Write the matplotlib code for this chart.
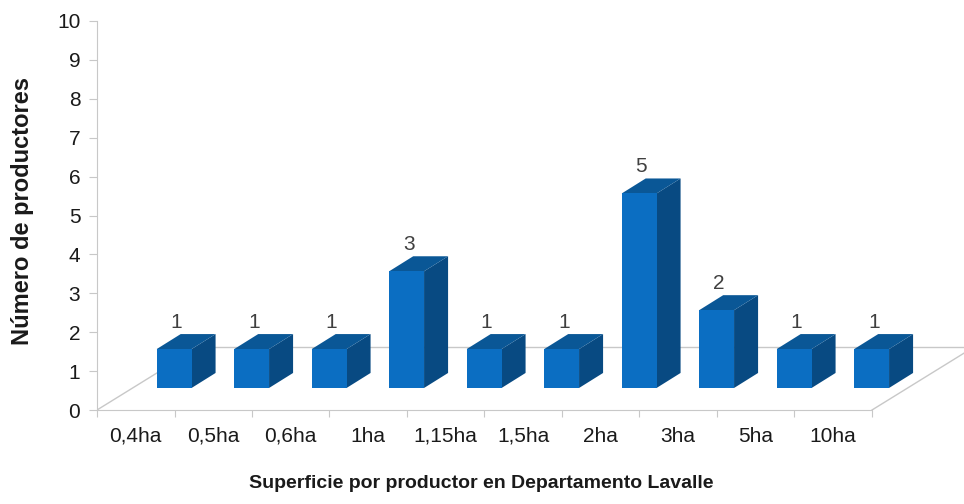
import matplotlib.pyplot as plt
from matplotlib.patches import Polygon

plt.rcParams['font.family'] = ['Liberation Sans', 'DejaVu Sans']

categories = ['0,4ha', '0,5ha', '0,6ha', '1ha', '1,15ha', '1,5ha', '2ha', '3ha', '5ha', '10ha']
productores = [1, 1, 1, 3, 1, 1, 5, 2, 1, 1]

FRONT = '#0B6EC2'
TOP = '#0A5796'
SIDE = '#084A82'
GRID = '#C8C8C8'
TEXT = '#1a1a1a'

# oblique projection offsets (data units)
floor_dx, floor_dy = 1.316, 1.62
bar_dx, bar_dy = 0.31, 0.386
bar_x0, bar_w = 0.77, 0.45
bar_base = 0.566

fig = plt.figure(figsize=(9.64, 5.04), dpi=100)
ax = fig.add_axes([97 / 964, 94 / 504, 867 / 964, 395 / 504])
ax.set_xlim(0, 867 / 77.5)
ax.set_ylim(0, 395 / 38.9)

# floor outline
n = len(categories)
ax.plot([0, floor_dx], [0, floor_dy], color=GRID, lw=1, zorder=1)
ax.plot([floor_dx, n + floor_dx], [floor_dy, floor_dy], color=GRID, lw=1, zorder=1)
ax.plot([n, n + floor_dx], [0, floor_dy], color=GRID, lw=1, zorder=1)

for i, v in enumerate(productores):
    x0 = i + bar_x0
    x1 = x0 + bar_w
    y0 = bar_base
    y1 = bar_base + v
    side = [(x1, y0), (x1 + bar_dx, y0 + bar_dy), (x1 + bar_dx, y1 + bar_dy), (x1, y1)]
    top = [(x0, y1), (x1, y1), (x1 + bar_dx, y1 + bar_dy), (x0 + bar_dx, y1 + bar_dy)]
    front = [(x0, y0), (x1, y0), (x1, y1), (x0, y1)]
    ax.add_patch(Polygon(side, closed=True, fc=SIDE, ec='none', zorder=3))
    ax.add_patch(Polygon(top, closed=True, fc=TOP, ec='none', zorder=3))
    ax.add_patch(Polygon(front, closed=True, fc=FRONT, ec='none', zorder=3))
    ax.text(x0 + bar_w / 2 + 0.03, y1 + bar_dy + 0.06, str(v), ha='center', va='bottom',
            fontsize=15, color='#404040', zorder=4)

for s in ['top', 'right']:
    ax.spines[s].set_visible(False)
ax.spines['left'].set_bounds(0, 10)
ax.spines['bottom'].set_bounds(0, n)
ax.spines['left'].set_color(GRID)
ax.spines['bottom'].set_color(GRID)

ax.set_yticks(range(0, 11))
ax.set_xticks(range(0, n + 1))
ax.set_xticklabels([])
ax.set_xticks([i + 0.5 for i in range(n)], minor=True)
ax.set_xticklabels(categories, minor=True)
ax.tick_params(axis='x', which='major', length=5, color=GRID, direction='out')
ax.tick_params(axis='x', which='minor', length=0, pad=12, labelsize=15, labelcolor=TEXT)
ax.tick_params(axis='y', length=6, color=GRID, labelsize=15, labelcolor=TEXT, pad=6)

fig.text(23 / 964, 1 - 211 / 504, 'Número de productores', rotation=90, ha='center', va='center',
         fontsize=17, fontweight='bold', color=TEXT)
fig.text(481 / 964, 1 - 483 / 504, 'Superficie por productor en Departamento Lavalle', ha='center',
         va='center', fontsize=14, fontweight='bold', color=TEXT)

fig.savefig('out.png', dpi=100)
